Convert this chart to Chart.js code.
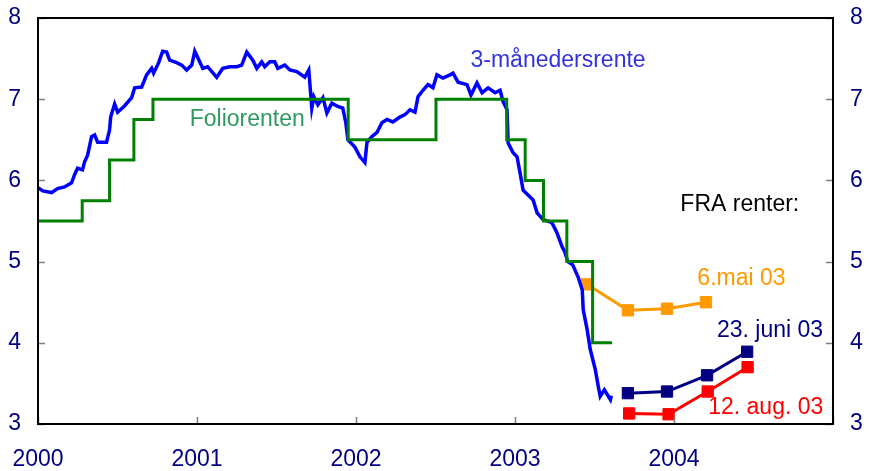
<!DOCTYPE html>
<html lang="no">
<head>
  <meta charset="UTF-8">
  <script src="https://cdn.jsdelivr.net/npm/chart.js"></script>
  <style>
    body, html {
      margin: 0;
      padding: 0;
      background: #fff;
    }
    #chart {
      display: block;
    }
  </style>
</head>
<body>
  <canvas id="chart" width="869" height="471"></canvas>
  <script>
    // 3-måneders rente (NIBOR), lest av figuren
    const nibor_t = [
      2000.00, 2000.03, 2000.085, 2000.123, 2000.167, 2000.211, 2000.230, 2000.249, 2000.280, 2000.293,
      2000.312, 2000.337, 2000.356, 2000.375, 2000.431, 2000.450, 2000.457, 2000.482, 2000.501, 2000.545,
      2000.589, 2000.608, 2000.652, 2000.683, 2000.715, 2000.727, 2000.759, 2000.784, 2000.809, 2000.828,
      2000.872, 2000.904, 2000.935, 2000.967, 2000.986, 2001.017, 2001.036, 2001.067, 2001.124, 2001.162,
      2001.206, 2001.250, 2001.281, 2001.313, 2001.351, 2001.376, 2001.407, 2001.426, 2001.458, 2001.489,
      2001.508, 2001.552, 2001.584, 2001.628, 2001.678, 2001.703, 2001.722, 2001.735, 2001.760, 2001.792,
      2001.817, 2001.848, 2001.886, 2001.917, 2001.936, 2001.949, 2001.993, 2002.025, 2002.056, 2002.069,
      2002.100, 2002.132, 2002.163, 2002.195, 2002.232, 2002.276, 2002.308, 2002.339, 2002.371, 2002.390,
      2002.421, 2002.453, 2002.484, 2002.509, 2002.547, 2002.591, 2002.610, 2002.642, 2002.698, 2002.723,
      2002.761, 2002.793, 2002.831, 2002.875, 2002.906, 2002.925, 2002.950, 2002.957, 2002.988, 2003.013,
      2003.032, 2003.051, 2003.082, 2003.114, 2003.139, 2003.175, 2003.232, 2003.263, 2003.297, 2003.313,
      2003.332, 2003.363, 2003.397, 2003.423, 2003.429, 2003.454, 2003.473, 2003.505, 2003.524, 2003.536,
      2003.562, 2003.581, 2003.600, 2003.606
    ];
    const nibor_v = [
      5.91, 5.87, 5.85, 5.90, 5.92, 5.97, 6.07, 6.15, 6.13, 6.23,
      6.31, 6.54, 6.56, 6.47, 6.47, 6.62, 6.78, 6.94, 6.84, 6.92,
      7.02, 7.14, 7.15, 7.30, 7.38, 7.32, 7.45, 7.59, 7.58, 7.48,
      7.45, 7.42, 7.36, 7.42, 7.59, 7.46, 7.38, 7.40, 7.27, 7.38,
      7.40, 7.40, 7.42, 7.58, 7.48, 7.38, 7.46, 7.40, 7.46, 7.46,
      7.38, 7.42, 7.36, 7.34, 7.27, 7.36, 6.89, 7.03, 6.93, 7.02,
      6.83, 6.95, 6.91, 6.89, 6.71, 6.50, 6.41, 6.29, 6.22, 6.47,
      6.54, 6.59, 6.71, 6.75, 6.72, 6.78, 6.81, 6.87, 6.84, 7.03,
      7.11, 7.18, 7.14, 7.30, 7.26, 7.30, 7.32, 7.21, 7.18, 7.05,
      7.20, 7.08, 7.14, 7.08, 7.11, 6.97, 6.87, 6.46, 6.34, 6.29,
      6.09, 5.88, 5.82, 5.76, 5.60, 5.52, 5.48, 5.36, 5.18, 5.12,
      5.00, 4.96, 4.81, 4.65, 4.41, 4.16, 3.92, 3.67, 3.46, 3.34,
      3.42, 3.36, 3.30, 3.35
    ];

    // Foliorenten, endringstidspunkter
    const folio_t = [2000.00, 2000.278, 2000.450, 2000.603, 2000.723, 2001.951, 2002.503, 2002.948, 2003.064, 2003.179, 2003.326, 2003.488, 2003.610];
    const folio_v = [5.50, 5.75, 6.25, 6.75, 7.00, 6.50, 7.00, 6.50, 6.00, 5.50, 5.00, 4.00, 4.00];

    // FRA renter
    const fraMai_t = [2003.452, 2003.710, 2003.956, 2004.201];
    const fraMai_v = [4.72, 4.40, 4.42, 4.50];
    const fraJuni_t = [2003.710, 2003.956, 2004.208, 2004.460];
    const fraJuni_v = [3.38, 3.40, 3.60, 3.89];
    const fraAug_t = [2003.718, 2003.966, 2004.212, 2004.463];
    const fraAug_v = [3.13, 3.12, 3.40, 3.70];

    const yearTicks = [2000, 2001, 2002, 2003, 2004, 2005];
    const rateTicks = [3, 4, 5, 6, 7, 8];

    function pts(t, v) {
      return t.map((x, i) => ({ x: x, y: v[i] }));
    }

    const labels = [
      { text: '3-månedersrente', x: 2002.72, y: 7.48, color: '#3333dd' },
      { text: 'Foliorenten', x: 2000.954, y: 6.75, color: '#2e9a5e' },
      { text: 'FRA renter:', x: 2004.04, y: 5.70, color: '#000000' },
      { text: '6.mai 03', x: 2004.147, y: 4.79, color: '#ff9900' },
      { text: '23. juni 03', x: 2004.27, y: 4.15, color: '#000080' },
      { text: '12. aug. 03', x: 2004.215, y: 3.20, color: '#ff0000' }
    ];

    const FONT = "'Liberation Sans', Arial, sans-serif";

    // frame, inward ticks and text labels
    const decor = {
      id: 'decor',
      afterDatasetsDraw(chart) {
        const ctx = chart.ctx;
        const a = chart.chartArea;
        const xs = chart.scales.x, ys = chart.scales.y;
        ctx.save();
        ctx.strokeStyle = '#808080';
        ctx.lineWidth = 1.5;
        ctx.beginPath();
        rateTicks.forEach(v => {
          const py = Math.round(ys.getPixelForValue(v)) + 0.5;
          ctx.moveTo(a.left, py); ctx.lineTo(a.left + 7, py);
          ctx.moveTo(a.right, py); ctx.lineTo(a.right - 7, py);
        });
        yearTicks.forEach(v => {
          const px = Math.round(xs.getPixelForValue(v)) + 0.5;
          ctx.moveTo(px, a.bottom); ctx.lineTo(px, a.bottom - 7);
        });
        ctx.stroke();

        ctx.strokeStyle = '#000';
        ctx.lineWidth = 2;
        ctx.strokeRect(a.left, a.top, a.right - a.left, a.bottom - a.top);

        ctx.font = '23px ' + FONT;
        ctx.textBaseline = 'middle';
        ctx.textAlign = 'left';
        labels.forEach(l => {
          ctx.fillStyle = l.color;
          ctx.fillText(l.text, xs.getPixelForValue(l.x), ys.getPixelForValue(l.y));
        });
        ctx.restore();
      }
    };

    const fraStyle = (color) => ({
      borderColor: color,
      backgroundColor: color,
      borderWidth: 3,
      pointStyle: 'rect',
      pointRadius: 8,
      pointBorderWidth: 1,
      pointHoverRadius: 8
    });

    // no extra room for overflowing tick labels
    const noPadX = (s) => { s.height = 47; s.paddingLeft = 0; s.paddingRight = 0; };
    const noPadY = (w) => (s) => { s.width = w; s.paddingTop = 0; s.paddingBottom = 0; };

    new Chart(document.getElementById('chart'), {
      type: 'line',
      data: {
        datasets: [
          {
            label: 'Foliorenten',
            data: pts(folio_t, folio_v),
            borderColor: '#008000',
            borderWidth: 3,
            stepped: true,
            pointRadius: 0
          },
          {
            label: '3-månedersrente',
            data: pts(nibor_t, nibor_v),
            borderColor: '#0000ff',
            borderWidth: 3.5,
            pointRadius: 0,
            tension: 0
          },
          Object.assign({ label: '6.mai 03', data: pts(fraMai_t, fraMai_v) }, fraStyle('#ff9900')),
          Object.assign({ label: '23. juni 03', data: pts(fraJuni_t, fraJuni_v) }, fraStyle('#000080')),
          Object.assign({ label: '12. aug. 03', data: pts(fraAug_t, fraAug_v) }, fraStyle('#ff0000'))
        ]
      },
      options: {
        responsive: false,
        animation: false,
        layout: { padding: { top: 18, left: 0, right: 0, bottom: 0 } },
        plugins: {
          legend: { display: false },
          tooltip: { enabled: false }
        },
        scales: {
          x: {
            type: 'linear',
            min: 2000,
            max: 2005,
            grid: { display: false, drawTicks: false },
            border: { display: false },
            afterBuildTicks: (s) => { s.ticks = yearTicks.map(v => ({ value: v })); },
            afterFit: noPadX,
            ticks: {
              autoSkip: false,
              maxRotation: 0,
              padding: 22,
              color: '#000080',
              font: { size: 23, family: FONT },
              callback: (v) => v === 2005 ? '' : String(v)
            }
          },
          y: {
            position: 'left',
            min: 3,
            max: 8,
            grid: { display: false, drawTicks: false },
            border: { display: false },
            afterBuildTicks: (s) => { s.ticks = rateTicks.map(v => ({ value: v })); },
            afterFit: noPadY(38),
            ticks: {
              padding: 17,
              color: '#000080',
              font: { size: 23, family: FONT }
            }
          },
          y2: {
            position: 'right',
            min: 3,
            max: 8,
            grid: { display: false, drawTicks: false },
            border: { display: false },
            afterBuildTicks: (s) => { s.ticks = rateTicks.map(v => ({ value: v })); },
            afterFit: noPadY(36),
            ticks: {
              padding: 17,
              color: '#000080',
              font: { size: 23, family: FONT }
            }
          }
        }
      },
      plugins: [decor]
    });
  </script>
</body>
</html>
